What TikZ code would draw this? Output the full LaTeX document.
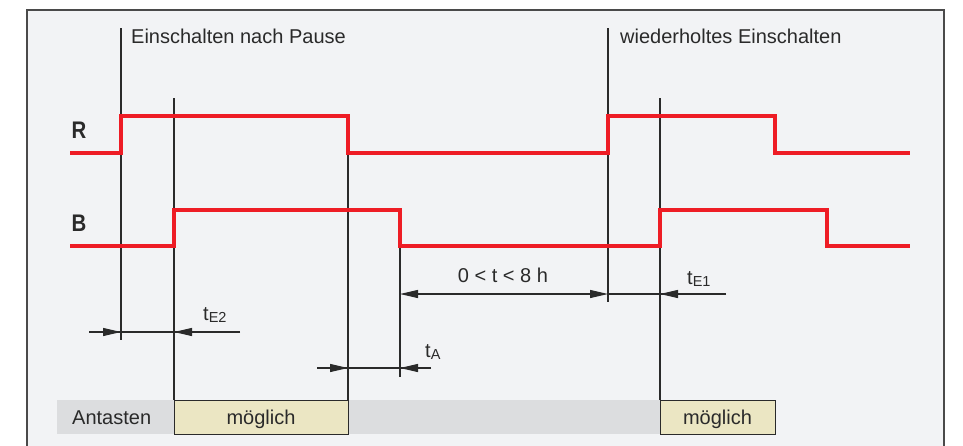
\documentclass[tikz,border=0pt]{standalone}
\usepackage{fontspec}
\setmainfont{Liberation Sans}
\usetikzlibrary{arrows.meta}
\definecolor{sigred}{HTML}{EE1C25}
\definecolor{panel}{HTML}{F2F3F5}
\definecolor{band}{HTML}{DCDDDF}
\definecolor{beige}{HTML}{EBE6C3}
\definecolor{framec}{HTML}{4A4A4A}
\definecolor{ink}{HTML}{2A2A2A}
\newcommand{\tsub}[1]{t\raisebox{-2.5pt}{\fontsize{14.5}{16}\selectfont #1}}
\begin{document}
\begin{tikzpicture}[x=1pt,y=-1pt,
  sig/.style={draw=sigred, line width=4pt, line join=miter},
  thinln/.style={draw=ink, line width=1.1pt},
  dimarrow/.style={thinln, -{Triangle[length=18pt,width=8pt]}},
  lbl/.style={font=\fontsize{20}{24}\selectfont, inner sep=0pt, text=ink},
  signame/.style={font=\fontsize{24}{28}\selectfont\bfseries, inner sep=0pt, text=ink, xscale=0.85},
  okbox/.style={draw=ink, line width=1pt, fill=beige, inner sep=0pt, outer sep=0pt, minimum height=34pt, text depth=0pt, anchor=north west, font=\fontsize{20}{24}\selectfont, text=ink}
]
\useasboundingbox (0,0) rectangle (963,445);
\fill[white] (0,0) rectangle (963,445);
\draw[framec, line width=2pt, fill=panel] (27,10) rectangle (944,470);

% time points
\coordinate (r1) at (121,0);
\coordinate (b1) at (174,0);
\coordinate (r2) at (348,0);
\coordinate (b2) at (400,0);
\coordinate (r3) at (608,0);
\coordinate (b3) at (660,0);

% bottom band
\fill[band] (57,400) rectangle (660,434);
\node[lbl, anchor=base west] (antasten) at (72,424) {Antasten};
\node[okbox, minimum width=174pt] (ok1) at (174,400) {möglich};
\node[okbox, minimum width=115pt] (ok2) at (660,400) {möglich};

% vertical marker lines
\draw[thinln] (r1 |- 0,28) -- (r1 |- 0,340);
\draw[thinln] (b1 |- 0,98) -- (ok1.north west);
\draw[thinln] (r2 |- 0,153) -- (ok1.north east);
\draw[thinln] (b2 |- 0,245) -- (b2 |- 0,377);
\draw[thinln] (r3 |- 0,28) -- (r3 |- 0,302);
\draw[thinln] (b3 |- 0,98) -- (ok2.north west);

% signals
\node[signame, anchor=base] (R) at (79,138) {R};
\node[signame, anchor=base] (B) at (79,231) {B};
\draw[sig] (70,153) -- (r1 |- 0,153) -- (r1 |- 0,116) -- (r2 |- 0,116) -- (r2 |- 0,153)
  -- (r3 |- 0,153) -- (r3 |- 0,116) -- (775,116) -- (775,153) -- (910,153);
\draw[sig] (70,246) -- (b1 |- 0,246) -- (b1 |- 0,210) -- (b2 |- 0,210) -- (b2 |- 0,246)
  -- (b3 |- 0,246) -- (b3 |- 0,210) -- (827,210) -- (827,246) -- (910,246);

% top texts
\node[lbl, anchor=base west] (t1) at (131,43) {Einschalten nach Pause};
\node[lbl, anchor=base west] (t2) at (620,43) {wiederholtes Einschalten};

% tE2
\coordinate (e2l) at (89,332);
\coordinate (e2r) at (240,332);
\draw[thinln] (e2l) -- (e2r);
\draw[dimarrow] (e2l) -- (r1 |- e2l);
\draw[dimarrow] (e2r) -- (b1 |- e2r);
\node[lbl, anchor=base west] (tE2) at (203,320) {\tsub{E2}};

% tA
\coordinate (al) at (317,368);
\coordinate (ar) at (431,368);
\draw[thinln] (al) -- (ar);
\draw[dimarrow] (al) -- (r2 |- al);
\draw[dimarrow] (ar) -- (b2 |- ar);
\node[lbl, anchor=base west] (tA) at (425,357) {\tsub{A}};

% 0 < t < 8 h and tE1
\coordinate (pl) at (400,294);
\coordinate (pr) at (608,294);
\coordinate (e1r) at (726,294);
\draw[thinln, {Triangle[length=18pt,width=8pt]}-{Triangle[length=18pt,width=8pt]}] (pl) -- (pr);
\draw[thinln] (pr) -- (e1r);
\draw[dimarrow] (e1r) -- (b3 |- e1r);
\node[lbl, anchor=base] (pause) at (503,282) {0 < t < 8 h};
\node[lbl, anchor=base west] (tE1) at (687,284) {\tsub{E1}};
\end{tikzpicture}
\end{document}
